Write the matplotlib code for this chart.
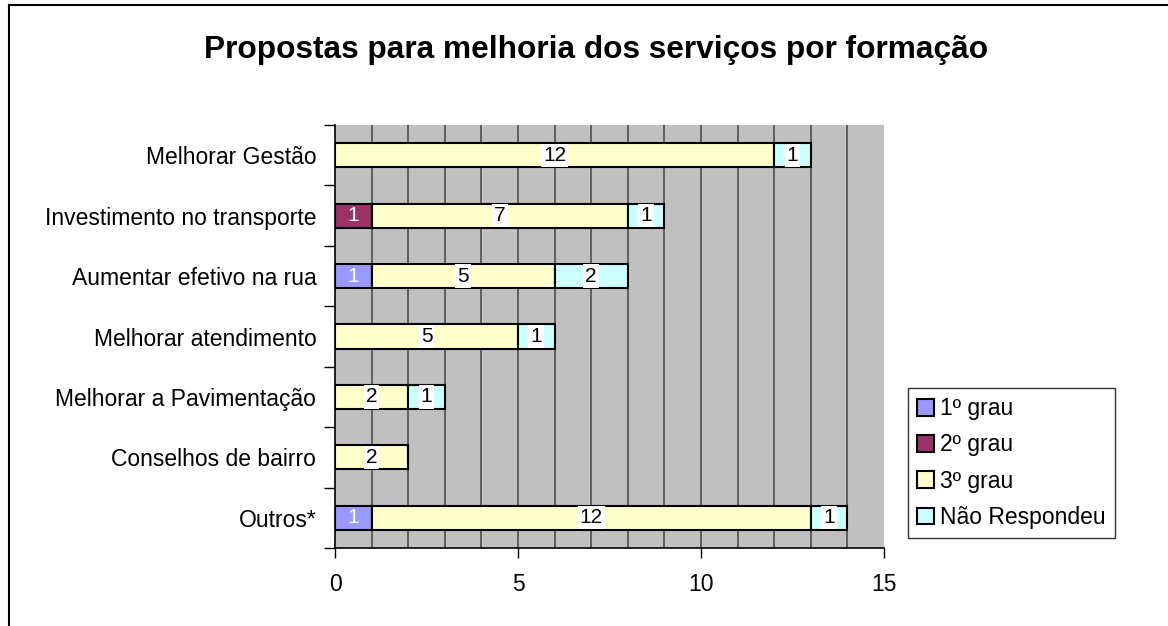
import matplotlib
matplotlib.use("Agg")
import matplotlib.pyplot as plt
from matplotlib.lines import Line2D
import numpy as np

plt.rcParams["font.family"] = ["Liberation Sans", "DejaVu Sans"]

categories = [
    "Melhorar Gestão",
    "Investimento no transporte",
    "Aumentar efetivo na rua",
    "Melhorar atendimento",
    "Melhorar a Pavimentação",
    "Conselhos de bairro",
    "Outros*",
]
grau1 = [0, 0, 1, 0, 0, 0, 1]
grau2 = [0, 1, 0, 0, 0, 0, 0]
grau3 = [12, 7, 5, 5, 2, 2, 12]
nao_resp = [1, 1, 2, 1, 1, 0, 1]

series_names = ["1º grau", "2º grau", "3º grau", "Não Respondeu"]
series_colors = ["#9999FF", "#993366", "#FFFFCC", "#CCFFFF"]
label_white = [True, True, False, False]

W, H = 1168, 626
fig = plt.figure(figsize=(W / 100, H / 100), dpi=100)
ax = fig.add_axes([335 / W, 1 - 548 / H, (884 - 335) / W, (548 - 125) / H])
ax.set_facecolor("#C0C0C0")

y = np.arange(len(categories))[::-1]
left = np.zeros(len(categories))
for vals, name, col, white in zip([grau1, grau2, grau3, nao_resp], series_names, series_colors, label_white):
    vals = np.array(vals, dtype=float)
    ax.barh(y, vals, left=left, height=0.4, color=col, edgecolor="black",
            linewidth=1.5, label=name, zorder=3)
    for yi, li, v in zip(y, left, vals):
        if v <= 0:
            continue
        if white:
            ax.text(li + v / 2, yi, "%d" % v, ha="center", va="center",
                    fontsize=15, color="white", zorder=4)
        else:
            ax.text(li + v / 2, yi, "%d" % v, ha="center", va="center",
                    fontsize=15, color="black", zorder=4,
                    bbox=dict(facecolor="white", edgecolor="none", pad=1.5))
    left += vals

ax.set_xlim(0, 15)
ax.set_ylim(-0.5, len(categories) - 0.5)
for xv in range(1, 15):
    ax.axvline(xv, color="#4d4d4d", linewidth=1.2, zorder=1)

ax.set_xticks([0, 5, 10, 15])
ax.tick_params(axis="x", length=7, width=1, pad=11, labelsize=16.5)
ax.set_yticks(y)
ax.set_yticklabels(categories)
ax.tick_params(axis="y", which="major", length=0, pad=13.5, labelsize=16.5)
ax.set_yticks(np.arange(-0.5, len(categories), 1.0), minor=True)
ax.tick_params(axis="y", which="minor", length=8, width=1)

for s in ["top", "right"]:
    ax.spines[s].set_visible(False)
for s in ["left", "bottom"]:
    ax.spines[s].set_linewidth(1.2)

fig.text(596 / W, 1 - 50 / H, "Propostas para melhoria dos serviços por formação",
         ha="center", va="center", fontsize=22.8, fontweight="bold")

leg = ax.legend(loc="upper left", bbox_to_anchor=(908 / W, 1 - 388 / H),
                bbox_transform=fig.transFigure, fontsize=16.5, frameon=True,
                fancybox=False, edgecolor="black", handlelength=0.75,
                handleheight=0.75, handletextpad=0.25, labelspacing=0.58,
                borderpad=0.4, borderaxespad=0)
leg.get_frame().set_linewidth(1.0)
for p in leg.get_patches():
    p.set_linewidth(1.5)

fig.add_artist(Line2D([9 / W, 9 / W], [0, 1 - 5 / H], color="black", linewidth=1.5))
fig.add_artist(Line2D([9 / W, 1], [1 - 5 / H, 1 - 5 / H], color="black", linewidth=1.5))

fig.savefig("out.png", dpi=100)
